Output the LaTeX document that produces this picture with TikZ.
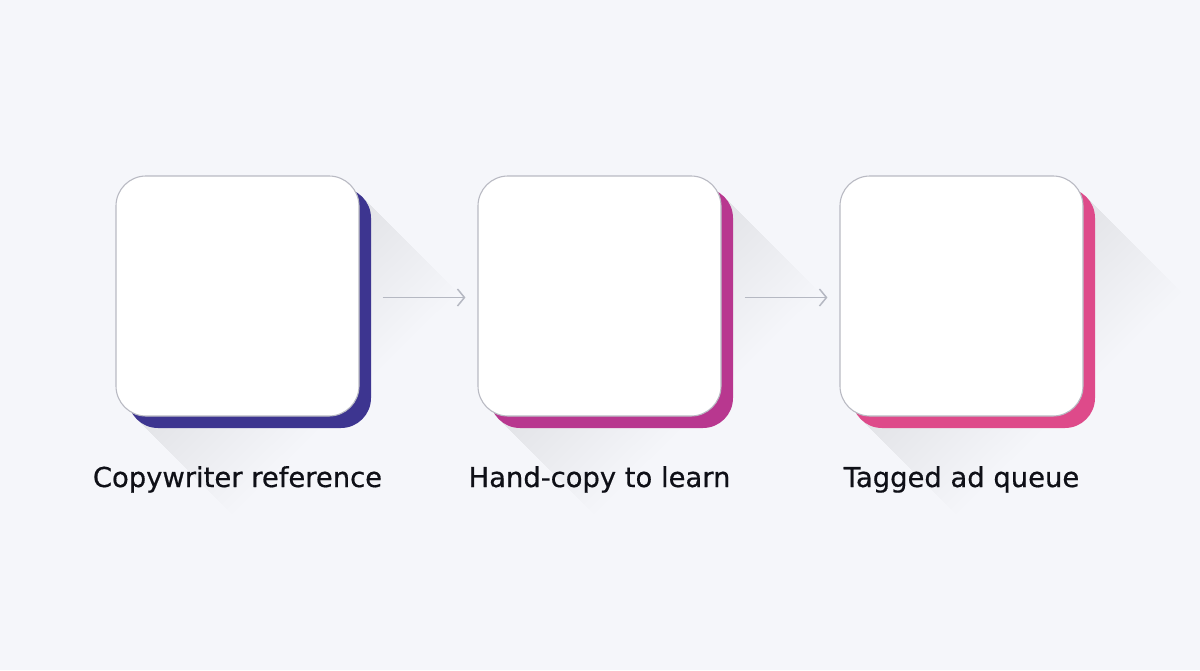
\documentclass[tikz,border=0pt]{standalone}
\usepackage{fontspec}
\setmainfont{DejaVu Sans}
\newfontfamily\labfont{DejaVu Sans}[FakeBold=0.6]
\usetikzlibrary{arrows.meta,calc}
\definecolor{bg}{HTML}{F5F6FA}
\definecolor{shadowc}{HTML}{8A8EA6}
\definecolor{edgec}{HTML}{B9BAC3}
\definecolor{arrowc}{HTML}{B5B8C2}
\definecolor{textc}{HTML}{0F1017}
\definecolor{cA}{HTML}{3D3590}
\definecolor{cB}{HTML}{B8378F}
\definecolor{cC}{HTML}{DE4A8A}
\tikzset{
  wbox/.style={draw=edgec, line width=1.1pt, fill=white, rounded corners=30pt,
    minimum width=243pt, minimum height=240pt, inner sep=0pt},
  cbox/.style={fill=#1, rounded corners=30pt,
    minimum width=243pt, minimum height=240pt, inner sep=0pt},
  lab/.style={text=textc, font=\labfont\fontsize{27.4}{32}\selectfont, inner sep=0pt, anchor=base},
  arr/.style={draw=arrowc, line width=1.5pt,
    -{Straight Barb[length=7pt,width=17pt,line width=1.5pt]}}
}
\begin{document}
\begin{tikzpicture}[x=1pt,y=-1pt]
\fill[bg] (0,0) rectangle (1200,670);
\useasboundingbox (0,0) rectangle (1200,670);
% long shadows
\foreach \X in {116,478,840}{
  \foreach \L in {5,10,...,95}{
    \fill[shadowc, opacity=0.006]
      (\X+246.2,196.8) -- ++(\L,\L) -- ($(\X+20.8,419.2)+(\L,\L)$) -- (\X+20.8,419.2) -- cycle;
  }
}
% coloured backing boxes
\node[cbox=cA] (c1) at (249.5,308) {};
\node[cbox=cB] (c2) at (611.5,308) {};
\node[cbox=cC] (c3) at (973.5,308) {};
% white cards
\node[wbox] (b1) at (237.5,296) {};
\node[wbox] (b2) at (599.5,296) {};
\node[wbox] (b3) at (961.5,296) {};
% arrows
\draw[arr] ([xshift=23pt,yshift=-1.5pt]b1.east) -- ([xshift=-12pt,yshift=-1.5pt]b2.west);
\draw[arr] ([xshift=23pt,yshift=-1.5pt]b2.east) -- ([xshift=-12pt,yshift=-1.5pt]b3.west);
% labels
\node[lab] (t1) at (237.5,487) {Copywriter reference};
\node[lab] (t2) at (599.5,487) {Hand-copy to learn};
\node[lab] (t3) at (961.5,487) {Tagged ad queue};
\end{tikzpicture}
\end{document}
